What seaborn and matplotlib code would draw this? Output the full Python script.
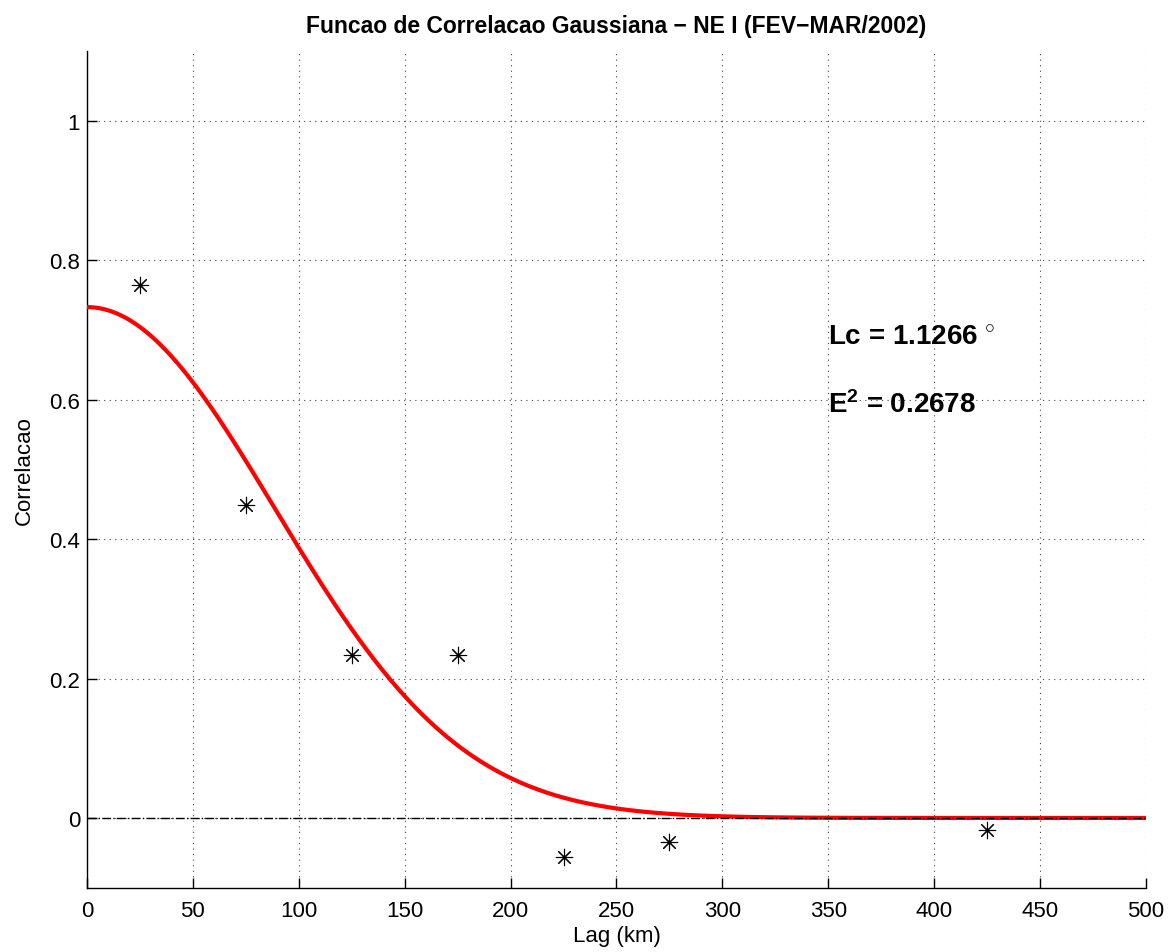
import numpy as np
import pandas as pd
import matplotlib
matplotlib.use('Agg')
import matplotlib.pyplot as plt
import seaborn as sns

# observed correlation per lag bin
lag_km = [25, 75, 125, 175, 225, 275, 425]
corr = [0.765, 0.449, 0.234, 0.234, -0.056, -0.034, -0.017]

# gaussian fit parameters (Lc shown in the chart, in degrees)
amp = 0.733
lc_deg = 1.1266
km_per_deg = 111.2
e2 = 0.2678

xticks = [0, 50, 100, 150, 200, 250, 300, 350, 400, 450, 500]
yticks = [0, 0.2, 0.4, 0.6, 0.8, 1]
ytick_labels = ['0', '0.2', '0.4', '0.6', '0.8', '1']

sns.set_style('white')
plt.rcParams['font.family'] = ['Liberation Sans', 'DejaVu Sans']
plt.rcParams['mathtext.fontset'] = 'custom'
plt.rcParams['mathtext.rm'] = 'Liberation Sans:bold'
plt.rcParams['mathtext.bf'] = 'Liberation Sans:bold'
plt.rcParams['text.color'] = 'black'
plt.rcParams['axes.labelcolor'] = 'black'
plt.rcParams['xtick.color'] = 'black'
plt.rcParams['ytick.color'] = 'black'
plt.rcParams['xtick.bottom'] = True
plt.rcParams['ytick.left'] = True

fig = plt.figure(figsize=(11.7, 9.53), dpi=100)
ax = fig.add_axes([0.0744, 0.0675, 0.905, 0.8776])

# fitted curve
lc_km = lc_deg * km_per_deg
x_fit = np.linspace(0, 500, 501)
fit_df = pd.DataFrame({'lag': x_fit, 'corr': amp * np.exp(-(x_fit / lc_km) ** 2)})
sns.lineplot(data=fit_df, x='lag', y='corr', color='red', linewidth=3, ax=ax, zorder=3)

# zero reference
ax.plot([0, 500], [0, 0], color='black', linestyle='-.', linewidth=1, zorder=4)

# observed points
pts = pd.DataFrame({'lag': lag_km, 'corr': corr})
sns.scatterplot(data=pts, x='lag', y='corr', marker=(8, 2, 0), s=140,
                color='black', linewidth=0.8, ax=ax, zorder=5)

ax.set_xlim(0, 500)
ax.set_ylim(-0.1, 1.1)
ax.set_xticks(xticks)
ax.set_yticks(yticks)
ax.set_yticklabels(ytick_labels)
ax.tick_params(direction='in', length=7, width=1, labelsize=16,
               bottom=True, left=True, top=False, right=False)
ax.tick_params(axis='x', pad=9)
ax.tick_params(axis='y', pad=5)
ax.grid(True, linestyle=(0, (1, 4)), color='#444444', linewidth=0.8)
for s in ['top', 'right']:
    ax.spines[s].set_visible(False)
for s in ['left', 'bottom']:
    ax.spines[s].set_linewidth(1)
    ax.spines[s].set_color('black')

ax.set_xlabel('Lag (km)', fontsize=16, labelpad=3)
ax.set_ylabel('Correlacao', fontsize=16, labelpad=10)
ax.set_title('Funcao de Correlacao Gaussiana \u2212 NE I (FEV\u2212MAR/2002)',
             fontsize=16.5, fontweight='bold', pad=14)

ax.text(350, 0.68, r'Lc = %.4f $^{\circ}$' % lc_deg, fontsize=20, fontweight='bold')
ax.text(350, 0.583, r'$\mathbf{E^{2}}$ = %.4f' % e2, fontsize=20, fontweight='bold')

fig.savefig('out.png', dpi=100)
